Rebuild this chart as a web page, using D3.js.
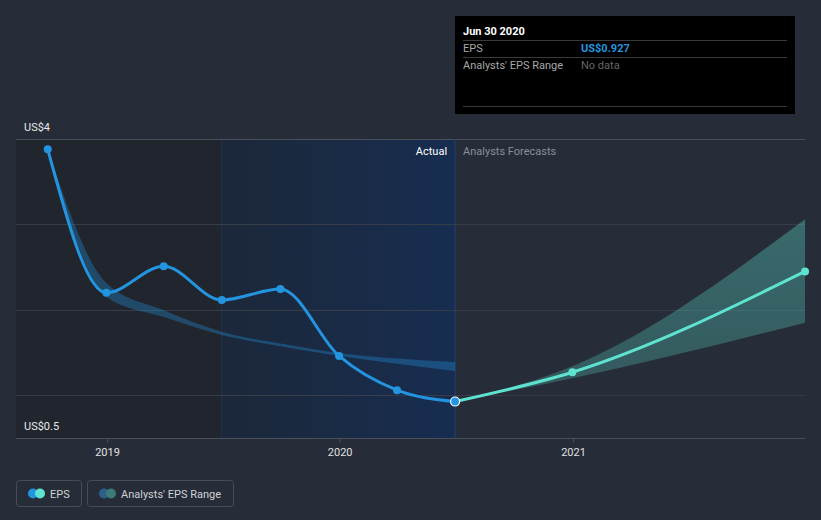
<!DOCTYPE html>
<html>
<head>
<meta charset="utf-8">
<script src="https://cdn.jsdelivr.net/npm/d3@7/dist/d3.min.js"></script>
<style>
  html, body { margin: 0; padding: 0; background: #262c38; }
  svg { display: block; font-family: Roboto, "Noto Sans", sans-serif; }
</style>
</head>
<body>
<svg id="chart" width="821" height="520"></svg>
<script>
// ---- data ----
const epsDates = ["2018-09-30","2018-12-31","2019-03-31","2019-06-30","2019-09-30","2019-12-31","2020-03-31","2020-06-30"];
const epsValues = [3.88, 2.20, 2.51, 2.115, 2.244, 1.46, 1.06, 0.927];

const pastRangeDates = ["2018-09-30","2018-12-31","2019-03-31","2019-06-30","2019-09-30","2019-12-31","2020-03-31","2020-06-30"];
const pastRangeLow  = [3.88, 2.15, 1.915, 1.705, 1.575, 1.46, 1.37, 1.284];
const pastRangeHigh = [3.88, 2.314, 1.995, 1.745, 1.605, 1.495, 1.43, 1.39];

const fcDates = ["2020-06-30","2020-12-31","2021-12-31"];
const fcValues = [0.927, 1.27, 2.45];
const fcLow  = [0.927, 1.20, 1.85];
const fcHigh = [0.927, 1.34, 3.06];

const yTickLabels = ["US$4", "US$0.5"];
const yTickValues = [4, 0.5];
const gridValues = [4, 3, 2, 1];
const xTickYears = ["2019", "2020", "2021"];

const tooltipTitle = "Jun 30 2020";
const tooltipRows = [["EPS", "US$0.927"], ["Analysts' EPS Range", "No data"]];
const legendItems = ["EPS", "Analysts' EPS Range"];

// ---- setup ----
const parse = d3.timeParse("%Y-%m-%d");
const svg = d3.select("#chart");
const L = 16, R = 805, T = 139, B = 438;

const x = d3.scaleTime().domain([parse("2019-01-01"), parse("2021-01-01")]).range([107, 573]);
const y = d3.scaleLinear().domain([0.5, 4]).range([B, T]);

const defs = svg.append("defs");
const g1 = defs.append("linearGradient").attr("id", "blueGrad").attr("x1", "0").attr("x2", "1").attr("y1", "0").attr("y2", "0");
g1.append("stop").attr("offset", "0").attr("stop-color", "#1c283a");
g1.append("stop").attr("offset", "1").attr("stop-color", "#172d50");
const g2 = defs.append("linearGradient").attr("id", "tealGrad").attr("x1", "0").attr("x2", "0").attr("y1", "0").attr("y2", "1");
g2.append("stop").attr("offset", "0").attr("stop-color", "#5ee3d0").attr("stop-opacity", 0.34);
g2.append("stop").attr("offset", "1").attr("stop-color", "#5ee3d0").attr("stop-opacity", 0.24);

const splitDate = parse("2020-06-30");
const highlightStart = parse("2019-06-30");

// background regions
svg.append("rect").attr("x", L).attr("y", T).attr("width", x(highlightStart) - L).attr("height", B - T).attr("fill", "#21252d");
svg.append("rect").attr("x", x(highlightStart)).attr("y", T).attr("width", x(splitDate) - x(highlightStart)).attr("height", B - T).attr("fill", "url(#blueGrad)");
svg.append("line").attr("x1", x(highlightStart)).attr("x2", x(highlightStart)).attr("y1", T).attr("y2", B).attr("stroke", "#22324a").attr("stroke-width", 1);

// gridlines
svg.append("g").selectAll("line").data(gridValues).join("line")
  .attr("x1", L).attr("x2", R)
  .attr("y1", d => Math.round(y(d)) + 0.5).attr("y2", d => Math.round(y(d)) + 0.5)
  .attr("stroke", (d, i) => i === 0 ? "#4a505b" : "#363c48").attr("stroke-width", 1);

// x axis
const xAxis = d3.axisBottom(x)
  .tickValues(xTickYears.map(s => parse(s + "-01-01")))
  .tickFormat(d3.timeFormat("%Y"))
  .tickSize(4).tickPadding(6);
const ax = svg.append("g").attr("transform", `translate(0,${B + 0.5})`).call(xAxis);
ax.select(".domain").attr("stroke", "#4a505b").attr("d", `M${L},0H${R}`);
ax.selectAll(".tick line").attr("stroke", "#4a505b");
ax.selectAll(".tick text").attr("fill", "#e0e0e0").attr("font-size", 11).attr("font-family", "Roboto, sans-serif");

// y labels
svg.append("g").selectAll("text").data(yTickValues).join("text")
  .attr("x", 24).attr("y", d => y(d) - 8)
  .attr("fill", "#e8e8e8").attr("font-size", 11)
  .text((d, i) => yTickLabels[i]);

// split line
svg.append("line").attr("x1", x(splitDate)).attr("x2", x(splitDate)).attr("y1", T).attr("y2", B)
  .attr("stroke", "#1f4272").attr("stroke-width", 1);

// Actual / Forecast labels
svg.append("text").attr("x", x(splitDate) - 8).attr("y", 155).attr("text-anchor", "end")
  .attr("fill", "#ffffff").attr("font-size", 11).text("Actual");
svg.append("text").attr("x", x(splitDate) + 8).attr("y", 155)
  .attr("fill", "#8a8f98").attr("font-size", 11).text("Analysts Forecasts");

// past range band
const pastBand = pastRangeDates.map((d, i) => ({ d: parse(d), lo: pastRangeLow[i], hi: pastRangeHigh[i] }));
const area = d3.area().curve(d3.curveMonotoneX).x(p => x(p.d)).y0(p => y(p.lo)).y1(p => y(p.hi));
svg.append("path").datum(pastBand).attr("d", area).attr("fill", "#2394df").attr("fill-opacity", 0.34);

// forecast band
const fcBand = fcDates.map((d, i) => ({ d: parse(d), lo: fcLow[i], hi: fcHigh[i] }));
svg.append("path").datum(fcBand).attr("d", area).attr("fill", "url(#tealGrad)");

// lines
const line = d3.line().curve(d3.curveMonotoneX).x(p => x(p.d)).y(p => y(p.v));
const eps = epsDates.map((d, i) => ({ d: parse(d), v: epsValues[i] }));
const fc = fcDates.map((d, i) => ({ d: parse(d), v: fcValues[i] }));
svg.append("path").datum(fc).attr("d", line).attr("fill", "none").attr("stroke", "#5ee3d0").attr("stroke-width", 3);
svg.append("path").datum(eps).attr("d", line).attr("fill", "none").attr("stroke", "#2394df").attr("stroke-width", 3);

// points
svg.append("g").selectAll("circle").data(fc.slice(1)).join("circle")
  .attr("cx", p => x(p.d)).attr("cy", p => y(p.v)).attr("r", 4).attr("fill", "#5ee3d0");
svg.append("g").selectAll("circle").data(eps.slice(0, -1)).join("circle")
  .attr("cx", p => x(p.d)).attr("cy", p => y(p.v)).attr("r", 4).attr("fill", "#2394df");
const last = eps[eps.length - 1];
svg.append("circle").attr("cx", x(last.d)).attr("cy", y(last.v)).attr("r", 4.5)
  .attr("fill", "#2394df").attr("stroke", "#ffffff").attr("stroke-width", 1.2);

// tooltip
const tx = Math.round(x(splitDate)), ty = 16;
const tip = svg.append("g");
tip.append("rect").attr("x", tx).attr("y", ty).attr("width", 340).attr("height", 98).attr("fill", "#000000");
tip.append("text").attr("x", tx + 8).attr("y", ty + 19).attr("fill", "#ffffff").attr("font-size", 11).attr("font-weight", "bold").text(tooltipTitle);
[24, 41, 90].forEach(dy => {
  tip.append("line").attr("x1", tx + 8).attr("x2", tx + 332).attr("y1", ty + dy + 0.5).attr("y2", ty + dy + 0.5).attr("stroke", "#3a3a3a");
});
tooltipRows.forEach((r, i) => {
  tip.append("text").attr("x", tx + 8).attr("y", ty + 36 + i * 17).attr("fill", "#a8a8a8").attr("font-size", 11).text(r[0]);
  tip.append("text").attr("x", tx + 126).attr("y", ty + 36 + i * 17)
    .attr("fill", i === 0 ? "#2394df" : "#666666").attr("font-size", 11)
    .attr("font-weight", i === 0 ? "bold" : "normal").text(r[1]);
});

// legend
const lg = svg.append("g");
const legW = [65, 146];
const legX = [16, 87];
const legCol = [["#2394df", "#5ee3d0"], ["#2c5f8a", "#3e7a78"]];
legendItems.forEach((t, i) => {
  const gx = legX[i];
  lg.append("rect").attr("x", gx + 0.5).attr("y", 480.5).attr("width", legW[i]).attr("height", 26).attr("rx", 3)
    .attr("fill", "none").attr("stroke", "#464c58");
  lg.append("circle").attr("cx", gx + 17).attr("cy", 493.5).attr("r", 5).attr("fill", legCol[i][0]);
  lg.append("circle").attr("cx", gx + 24).attr("cy", 493.5).attr("r", 5).attr("fill", legCol[i][1]);
  lg.append("text").attr("x", gx + 34).attr("y", 497.5).attr("fill", "#cfd2d6").attr("font-size", 11).text(t);
});
</script>
</body>
</html>
